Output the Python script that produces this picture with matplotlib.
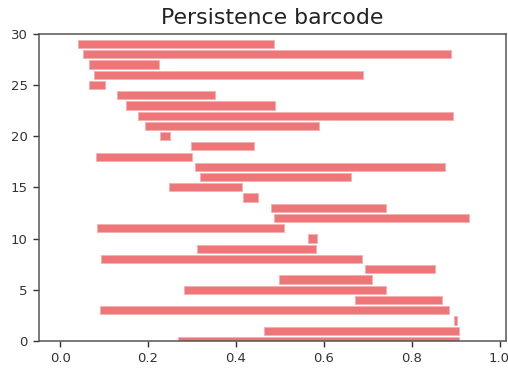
import numpy as np
import matplotlib
matplotlib.use('Agg')
import matplotlib.pyplot as plt

# birth / death of each interval, listed from the bottom row (0) to the top row (29)
births = [0.269, 0.464, 0.897, 0.090, 0.671, 0.282, 0.499, 0.693, 0.094, 0.311,
          0.563, 0.084, 0.486, 0.479, 0.416, 0.248, 0.318, 0.308, 0.081, 0.298,
          0.228, 0.193, 0.178, 0.151, 0.129, 0.065, 0.078, 0.065, 0.053, 0.040]
deaths = [0.908, 0.907, 0.904, 0.885, 0.869, 0.742, 0.709, 0.853, 0.687, 0.582,
          0.585, 0.509, 0.930, 0.742, 0.451, 0.415, 0.661, 0.876, 0.301, 0.441,
          0.250, 0.588, 0.895, 0.489, 0.352, 0.103, 0.690, 0.224, 0.889, 0.486]

births = np.array(births)
deaths = np.array(deaths)
rows = np.arange(len(births))

fig = plt.figure(figsize=(5.08, 3.70), dpi=100)
ax = fig.add_axes([0.0768, 0.0784, 0.9187, 0.8305])

ax.barh(rows, deaths - births, left=births, height=0.8,
        color='#ee7679', edgecolor='#f4b0b1', linewidth=0.6)

ax.set_xlim(-0.048, 1.014)
ax.set_ylim(0, 30)
ax.set_xticks([0.0, 0.2, 0.4, 0.6, 0.8, 1.0])
ax.set_yticks([0, 5, 10, 15, 20, 25, 30])
ax.tick_params(labelsize=9.5, colors='#333333', length=4.5, width=1.0)
for s in ax.spines.values():
    s.set_color('#555555')
    s.set_linewidth(1.1)
ax.set_title('Persistence barcode', fontsize=15.8, color='#222222', pad=7)

fig.savefig('out.png', dpi=100)
